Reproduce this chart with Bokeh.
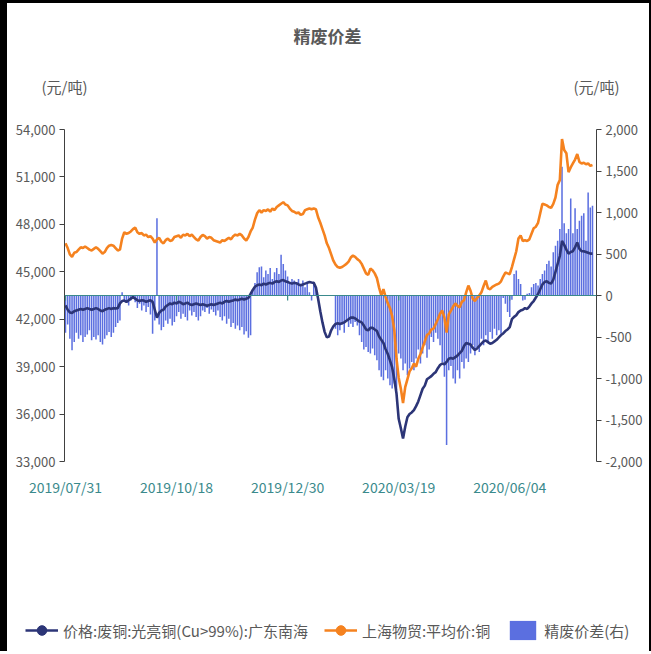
import numpy as np
from bokeh.plotting import figure
from bokeh.layouts import column
from bokeh.models import (Range1d, LinearAxis, FixedTicker, NumeralTickFormatter, Span,
                          Legend, LegendItem, Label, ColumnDataSource)
from bokeh.embed import file_html
from bokeh.resources import INLINE

# ---------------- data ----------------
tick_idx = [0, 51, 102, 153, 204]
tick_labels = ["2019/07/31", "2019/10/18", "2019/12/30", "2020/03/19", "2020/06/04"]
left_ticks = [33000, 36000, 39000, 42000, 45000, 48000, 51000, 54000]
right_ticks = [-2000, -1500, -1000, -500, 0, 500, 1000, 1500, 2000]

# 价格:废铜:光亮铜(Cu>99%):广东南海 (left axis)
scrap = [
    42870, 42600, 42430, 42400, 42500, 42550, 42600, 42650, 42600, 42650,
    42700, 42650, 42600, 42650, 42700, 42650, 42550, 42500, 42600, 42650,
    42700, 42650, 42700, 42680, 42700, 43000, 43150, 43180, 43100, 43200,
    43300, 43400, 43300, 43200, 43150, 43200, 43180, 43100, 43150, 43200,
    43100, 42600, 42100, 42400, 42550, 42600, 42800, 42900, 43000, 42950,
    43050, 43000, 43100, 43050, 42950, 43000, 43050, 42950, 42900, 42950,
    43000, 42950, 42900, 42950, 42900, 42850, 42900, 42950, 42900, 42950,
    43000, 43050, 43000, 43100, 43150, 43100, 43150, 43180, 43250, 43200,
    43250, 43300, 43250, 43300, 43350, 43600, 43850, 44050, 44150, 44200,
    44150, 44250, 44200, 44260, 44300, 44250, 44350, 44400, 44350, 44450,
    44480, 44400, 44350, 44300, 44250, 44300, 44280, 44200, 44150, 44200,
    44250, 44300, 44350, 44320, 44300, 44000, 43300, 42500, 41800, 41200,
    40850, 40900, 41300, 41550, 41700, 41750, 41700, 41750, 41800, 41900,
    42000, 42100, 42110, 42050, 41950, 41850, 41800, 41600, 41350, 41300,
    41450, 41450, 41350, 41250, 40900, 40700, 40500, 40100, 39800, 39400,
    38950, 38200, 37300, 35700, 35100, 34460, 35200, 35800, 36000, 36100,
    36250, 36500, 36800, 37200, 37600, 37800, 38200, 38300, 38400, 38550,
    38650, 38900, 39100, 39200, 39150, 39300, 39500, 39550, 39500, 39600,
    39700, 39850, 40000, 40300, 40500, 40450, 40400, 40200, 40050, 40150,
    40300, 40450, 40600, 40650, 40550, 40450, 40500, 40600, 40700, 40850,
    41000, 41100, 41250, 41350, 41500, 42000, 42150, 42250, 42450, 42550,
    42600, 42700, 42650, 42800, 43000, 43150, 43370, 43600, 43900, 44200,
    44350, 44400, 44300, 44250, 44500, 45000, 45500, 46000, 46950, 46700,
    46400, 46150, 46250, 46300, 46550, 46850, 46450, 46300, 46300, 46250,
    46200, 46150, 46150,
]

# 上海物贸:平均价:铜 (left axis)
shmetal = [
    46800, 46500, 46100, 45950, 46200, 46250, 46400, 46550, 46500, 46600,
    46500, 46400, 46350, 46450, 46550, 46450, 46300, 46150, 46250, 46500,
    46650, 46700, 46650, 46500, 46350, 46400, 47100, 47500, 47400, 47450,
    47550, 47700, 47800, 47500, 47400, 47450, 47300, 47350, 47200, 47250,
    47100, 46850, 47050, 47150, 46900, 46800, 47000, 47100, 46950, 47000,
    47200, 47250, 47300, 47150, 47350, 47300, 47400, 47250, 47350, 47200,
    47050, 46980, 47200, 47330, 47250, 47100, 47200, 47150, 47000, 46950,
    46900, 46850, 47000, 46950, 47050, 47150, 47050, 47250, 47350, 47300,
    47400, 47300, 47100, 46980, 47200, 47550, 47800, 48300, 48700, 48900,
    48750, 48900, 48850, 48950, 48800, 49000, 48900, 49100, 49200, 49300,
    49400, 49250, 49200, 49000, 48850, 48800, 48700, 48750, 48600, 48650,
    48900, 48950, 49000, 48950, 49000, 48950, 48450, 48100, 47700, 47300,
    46800, 46500, 46100, 45700, 45450, 45300, 45250, 45300, 45400, 45500,
    45650, 45900, 46030, 45950, 45800, 45700, 45500, 45200, 44900, 44800,
    45200, 45100, 44900, 44600, 44000, 43500, 43900, 43400, 43000, 42700,
    42200, 41300, 39500, 38300, 37600, 36700, 37700, 38200, 38700, 38900,
    39200, 39000, 39500, 39800, 40200, 40600, 41000, 41100, 41350, 41400,
    41700, 42000, 42350, 42550, 42100, 41150, 42300, 42550, 42800, 43000,
    42850, 42750, 43100, 43200, 43700, 44130, 43800, 43300, 43150, 43350,
    43500, 43700, 44100, 44450, 43950, 43900, 44050, 44130, 44200, 44250,
    44400, 44700, 44950, 44900, 44850, 45300, 45800, 46300, 47100, 47300,
    46950, 47000, 46950, 47050, 47400, 47750, 47850, 48100, 48700, 49300,
    49250, 49200, 49100, 49050, 49300, 49700, 50500, 50800, 53400, 52700,
    52500, 51300, 51600, 51850, 52100, 52450, 51950, 51850, 51900, 51800,
    51850, 51700, 51750,
]

# 精废价差 (right axis); None = no value
spread = [
    -450, -350, -520, -660, -560, -450, -520, -480, -560, -500,
    -470, -420, -540, -500, -530, -480, -560, -590, -520, -480,
    -440, -500, -450, -380, -330, -300, 40, -60, -90, -120,
    -60, -40, -80, -150, -100, -180, -120, -200, -140, -230,
    -460, -300, 930, -350, -420, -380, -300, -340, -280, -360,
    -320, -250, -200, -280, -220, -260, -300, -180, -240, -200,
    -260, -300, -250, -180, -200, -150, -220, -170, -200, -240,
    -180, -260, -300, -250, -340, -280, -380, -330, -400, -360,
    -420, -380, -470, -430, -510, -480, 60, 150, 280, 340,
    350, 220, 300, 260, 330, 200, 280, 330, 260, 490,
    380, 300, 230, 160, 200, 180, 150, 200, 140, 180,
    100, 170, 40, -60, 160, 100, None, None, None, None,
    None, None, None, None, -400, -480, -420, -350, -450, -300,
    -380, -340, -380, -320, -360, -480, -560, -650, -620, -680,
    -700, -640, -720, -780, -900, -980, -1020, -900, -1000, -1080,
    -1120, -1060, -1140, -700, -760, -900, -820, -960, -880, -800,
    -900, -760, -650, -820, -700, -600, -750, -650, -500, -560,
    -450, -520, -600, -800, -980, -1800, -900, -850, -1000, -1060,
    -900, -1000, -800, -880, -760, -800, -700, -600, -720, -620,
    -680, -520, -600, -480, -560, -440, -520, -400, -480, -420,
    -460, -30, -100, -200, -260, -50, 260, 300, 200, 140,
    -60, -50, 20, 30, 100, 140, 150, 120, 200, 260,
    300, 380, 420, 350, 520, 600, 660, 800, 1550, 870,
    750, 800, 1170, 750, 1050, 800, 900, 960, 990, 660,
    1240, 1060, 1080,
]

series_names = ["价格:废铜:光亮铜(Cu>99%):广东南海", "上海物贸:平均价:铜", "精废价差(右)"]
title_text = "精废价差"
unit_text = "(元/吨)"

# ---------------- styles ----------------
FONT = "Noto Sans CJK SC"
GREY = "#595959"
TEAL = "#3a8a8c"
NAVY = "#2c3577"
ORANGE = "#f5821f"
BLUE = "#5b6fe0"
W = 642


def no_align(f):
    try:
        f.frame_align = False
    except Exception:
        pass


def blank(height, y_top_down=True):
    f = figure(width=W, height=height, output_backend="svg", toolbar_location=None,
               title=None, x_axis_location=None, y_axis_location=None,
               x_range=Range1d(0, W),
               y_range=Range1d(height, 0) if y_top_down else Range1d(0, height),
               min_border=0, min_border_left=0, min_border_right=0,
               min_border_top=0, min_border_bottom=0)
    f.grid.visible = False
    f.outline_line_color = None
    f.border_fill_color = "white"
    f.background_fill_color = "white"
    no_align(f)
    return f


# ---------------- header (title + units) ----------------
head = blank(116)
head.add_layout(Label(x=320, y=32, text=title_text, text_align="center",
                      text_baseline="middle", text_font=FONT, text_font_size="17px",
                      text_font_style="bold", text_color=GREY))
head.add_layout(Label(x=57, y=83, text=unit_text, text_align="center",
                      text_baseline="middle", text_font=FONT, text_font_size="15px",
                      text_color=GREY))
head.add_layout(Label(x=589, y=83, text=unit_text, text_align="center",
                      text_baseline="middle", text_font=FONT, text_font_size="15px",
                      text_color=GREY))

# ---------------- main chart ----------------
n = len(scrap)
src = ColumnDataSource(dict(
    x=list(range(n)),
    scrap=scrap,
    shmetal=shmetal,
    spread=np.array(spread, dtype=float),
))

p = figure(width=W, height=390, output_backend="svg", toolbar_location=None, title=None,
           x_range=Range1d(-0.46, n - 1 + 1.84), y_range=Range1d(33000, 54000),
           min_border_left=57, min_border_right=53, min_border_top=10,
           min_border_bottom=48)
no_align(p)
p.extra_y_ranges = {"right": Range1d(-2000, 2000)}
p.grid.visible = False
p.outline_line_color = None
p.background_fill_color = "white"
p.border_fill_color = "white"

ya = p.yaxis[0]
ya.ticker = FixedTicker(ticks=left_ticks)
ya.formatter = NumeralTickFormatter(format="0,0")

ra = LinearAxis(y_range_name="right", ticker=FixedTicker(ticks=right_ticks),
                formatter=NumeralTickFormatter(format="0,0"))
p.add_layout(ra, "right")

for ax in (ya, ra):
    ax.axis_line_color = "#404040"
    ax.major_tick_line_color = "#404040"
    ax.major_tick_out = 5
    ax.major_tick_in = 0
    ax.minor_tick_line_color = None
    ax.major_label_text_font = FONT
    ax.major_label_text_font_size = "13px"
    ax.major_label_text_color = GREY
    ax.major_label_standoff = 4

xa = p.xaxis[0]
xa.ticker = FixedTicker(ticks=tick_idx)
xa.major_label_overrides = {i: lab for i, lab in zip(tick_idx, tick_labels)}
xa.axis_line_color = None
xa.major_tick_line_color = None
xa.major_tick_out = 0
xa.major_tick_in = 0
xa.minor_tick_line_color = None
xa.major_label_text_font = FONT
xa.major_label_text_font_size = "14px"
xa.major_label_text_color = TEAL
xa.major_label_standoff = 15

p.vbar(x="x", top="spread", bottom=0, width=0.7, source=src,
       y_range_name="right", fill_color=BLUE, line_color=None)

p.add_layout(Span(location=0, dimension="width", y_range_name="right",
                  line_color=TEAL, line_width=1.2))
p.segment(x0=tick_idx, y0=[0] * len(tick_idx), x1=tick_idx, y1=[-60] * len(tick_idx),
          y_range_name="right", line_color=TEAL, line_width=1.2)

p.line("x", "scrap", source=src, line_color=NAVY, line_width=2.6)
p.line("x", "shmetal", source=src, line_color=ORANGE, line_width=2.6)

# ---------------- legend ----------------
leg = blank(142, y_top_down=False)
off = dict(x=[-100], y=[-100])  # off-canvas anchor points for legend swatches only
r1 = leg.line(x=off["x"], y=off["y"], line_color=NAVY, line_width=2.6)
r1m = leg.scatter(x=off["x"], y=off["y"], marker="circle", size=9,
                  fill_color=NAVY, line_color=NAVY)
r2 = leg.line(x=off["x"], y=off["y"], line_color=ORANGE, line_width=2.6)
r2m = leg.scatter(x=off["x"], y=off["y"], marker="circle", size=9,
                  fill_color=ORANGE, line_color=ORANGE)
r3 = leg.vbar(x=off["x"], top=off["y"], width=1, fill_color=BLUE, line_color=None)
legend = Legend(items=[
    LegendItem(label=series_names[0], renderers=[r1, r1m]),
    LegendItem(label=series_names[1], renderers=[r2, r2m]),
    LegendItem(label=series_names[2], renderers=[r3]),
], orientation="horizontal", location=(18, 9), padding=0, margin=0,
    spacing=16, glyph_width=33, glyph_height=24, label_standoff=5,
    border_line_alpha=0, background_fill_alpha=0,
    label_text_font=FONT, label_text_font_size="15px", label_text_color=GREY)
leg.add_layout(legend)

layout = column(head, p, leg, spacing=0,
                styles={"border-left": "7px solid black", "border-top": "3px solid black",
                        "border-right": "2px solid black"})

open("out.html", "w").write(file_html(layout, INLINE))
